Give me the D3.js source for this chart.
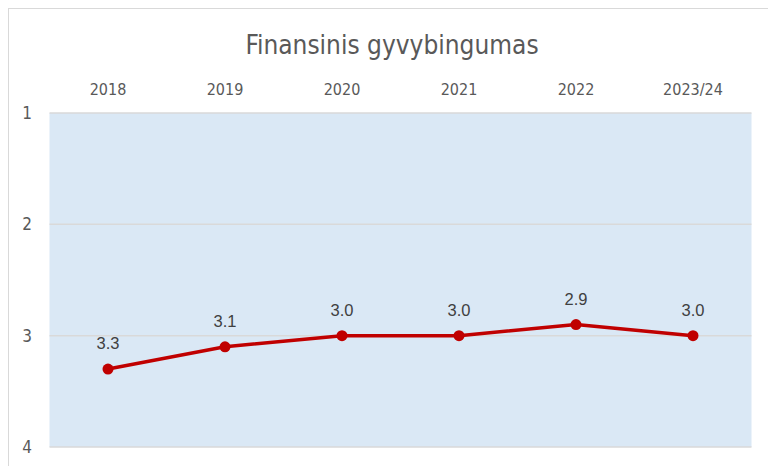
<!DOCTYPE html>
<html>
<head>
  <style>
    body { margin: 0; background: #fff; }
    svg text { fill: #595959; }
  </style>
</head>
<body>
  <svg id="chart"></svg>
  <script src="https://d3js.org/d3.v7.min.js"></script>
  <script>
    const years = ["2018", "2019", "2020", "2021", "2022", "2023/24"];
    const values = [3.3, 3.1, 3.0, 3.0, 2.9, 3.0];
    const yTicks = [1, 2, 3, 4];

    const width = 768, height = 466;
    const narrow = "'Liberation Sans Narrow', 'Arial Narrow', 'DejaVu Sans Condensed', sans-serif";

    const svg = d3.select("#chart")
      .attr("width", width)
      .attr("height", height);

    // chart border
    svg.append("rect")
      .attr("x", 8.5).attr("y", 8.5)
      .attr("width", width + 10).attr("height", height + 10)
      .attr("fill", "#fff")
      .attr("stroke", "#d9d9d9");

    const x = d3.scaleBand().domain(years).range([49.5, 751.5]);
    const y = d3.scaleLinear().domain([1, 4]).range([113, 447]);

    svg.append("rect")
      .attr("x", x.range()[0]).attr("y", y(1))
      .attr("width", x.range()[1] - x.range()[0])
      .attr("height", y(4) - y(1))
      .attr("fill", "#dae8f5");

    svg.append("g")
      .selectAll("line")
      .data(yTicks)
      .join("line")
      .attr("x1", x.range()[0]).attr("x2", x.range()[1])
      .attr("y1", d => y(d)).attr("y2", d => y(d))
      .attr("stroke", "#d9d9d9")
      .attr("stroke-width", 1.5);

    svg.append("text")
      .attr("x", 392).attr("y", 54)
      .attr("text-anchor", "middle")
      .attr("font-family", narrow)
      .attr("font-size", 26)
      .text("Finansinis gyvybingumas");

    svg.append("g")
      .selectAll("text")
      .data(years)
      .join("text")
      .attr("x", d => x(d) + x.bandwidth() / 2)
      .attr("y", 95)
      .attr("text-anchor", "middle")
      .attr("font-family", narrow)
      .attr("font-size", 16)
      .text(d => d);

    svg.append("g")
      .selectAll("text")
      .data(yTicks)
      .join("text")
      .attr("x", 27)
      .attr("y", d => y(d))
      .attr("dy", "0.35em")
      .attr("text-anchor", "middle")
      .attr("font-family", narrow)
      .attr("font-size", 17)
      .text(d => d);

    const line = d3.line()
      .x((d, i) => x(years[i]) + x.bandwidth() / 2)
      .y(d => y(d));

    svg.append("path")
      .datum(values)
      .attr("d", line)
      .attr("fill", "none")
      .attr("stroke", "#c00000")
      .attr("stroke-width", 3.5)
      .attr("stroke-linejoin", "round");

    svg.append("g")
      .selectAll("circle")
      .data(values)
      .join("circle")
      .attr("cx", (d, i) => x(years[i]) + x.bandwidth() / 2)
      .attr("cy", d => y(d))
      .attr("r", 5.5)
      .attr("fill", "#c00000");

    svg.append("g")
      .selectAll("text")
      .data(values)
      .join("text")
      .attr("x", (d, i) => x(years[i]) + x.bandwidth() / 2)
      .attr("y", d => y(d) - 20)
      .attr("text-anchor", "middle")
      .attr("font-family", "'Liberation Sans', Arial, sans-serif")
      .attr("font-size", 16.5)
      .style("fill", "#404040")
      .text(d => d.toFixed(1));
  </script>
</body>
</html>
